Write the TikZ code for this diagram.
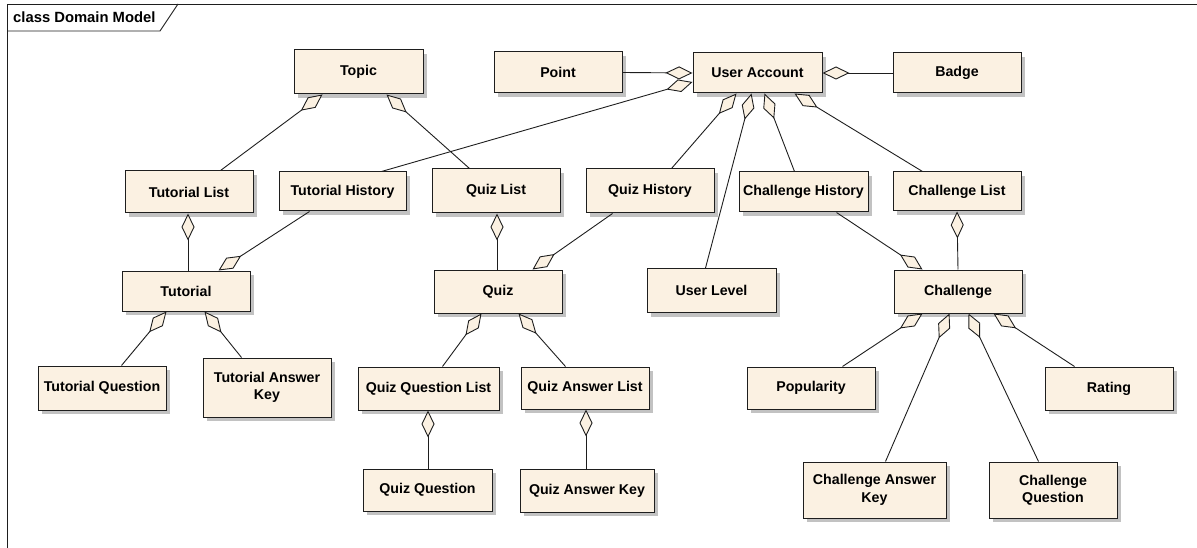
\documentclass[tikz,border=0pt]{standalone}
\usepackage{fontspec}
\setmainfont{Liberation Sans}
\usetikzlibrary{arrows.meta,shadows}
\definecolor{classfill}{RGB}{251,241,226}
\definecolor{edgeline}{RGB}{30,30,30}
\begin{document}
\begin{tikzpicture}[x=1pt,y=-1pt,
  cls/.style={draw=edgeline, line width=1pt, fill=classfill, inner sep=2pt,
    align=center, font=\bfseries\fontsize{14.2}{17.5}\selectfont,
    drop shadow={shadow xshift=4pt, shadow yshift=-4pt, fill=black!24, opacity=1}},
  agg/.style={draw=edgeline, line width=0.9pt,
    -{Diamond[length=27pt,width=13pt,fill=classfill,line width=0.9pt]}},
  framestyle/.style={draw=edgeline, line width=0.9pt}
]
\useasboundingbox (0,0) rectangle (1197,548);

% diagram frame and its name tab
\draw[framestyle] (1197,4) -- (7,4) -- (7,548);
\draw[framestyle] (7,31) -- (160,31) -- (178,4);
\node[anchor=west, font=\bfseries\fontsize{14.8}{17}\selectfont, inner sep=0pt] (title) at (13,17.5) {class Domain Model};

% classes
\node[cls, minimum width=129pt, minimum height=44pt] (topic)  at (358.5,72)  {Topic};
\node[cls, minimum width=128pt, minimum height=41pt] (point)  at (558,72.5)  {Point};
\node[cls, minimum width=129pt, minimum height=40pt] (ua)     at (757.5,73)  {User Account};
\node[cls, minimum width=128pt, minimum height=40pt] (badge)  at (957,73)    {Badge};

\node[cls, minimum width=128pt, minimum height=42pt] (tlist)  at (189,192)   {Tutorial List};
\node[cls, minimum width=127pt, minimum height=39pt] (thist)  at (342.5,191.5) {Tutorial History};
\node[cls, minimum width=128pt, minimum height=44pt] (qlist)  at (496,191)   {Quiz List};
\node[cls, minimum width=128pt, minimum height=44pt] (qhist)  at (650,191)   {Quiz History};
\node[cls, minimum width=129pt, minimum height=40pt] (chist)  at (803.5,192) {Challenge History};
\node[cls, minimum width=128pt, minimum height=39pt] (clist)  at (957,191.5) {Challenge List};

\node[cls, minimum width=128pt, minimum height=40pt] (tut)    at (186,291)   {Tutorial};
\node[cls, minimum width=128pt, minimum height=43pt] (quiz)   at (498,291.5) {Quiz};
\node[cls, minimum width=129pt, minimum height=44pt] (ulevel) at (711.5,290.5) {User Level};
\node[cls, minimum width=128pt, minimum height=43pt] (chal)   at (958,291.5) {Challenge};

\node[cls, minimum width=128pt, minimum height=44pt] (tq)     at (102,388)   {Tutorial Question};
\node[cls, minimum width=128pt, minimum height=59pt] (tak)    at (267,387.5) {Tutorial Answer\\Key};
\node[cls, minimum width=141pt, minimum height=43pt] (qql)    at (428.5,388.5) {Quiz Question List};
\node[cls, minimum width=128pt, minimum height=42pt] (qal)    at (585,388)   {Quiz Answer List};
\node[cls, minimum width=128pt, minimum height=42pt] (pop)    at (811,388)   {Popularity};
\node[cls, minimum width=128pt, minimum height=43pt] (rating) at (1109,388.5) {Rating};

\node[cls, minimum width=129pt, minimum height=42pt] (qq)     at (427.5,490) {Quiz Question};
\node[cls, minimum width=134pt, minimum height=43pt] (qak)    at (587,490.5) {Quiz Answer Key};
\node[cls, minimum width=143pt, minimum height=56pt] (cak)    at (874.5,490) {Challenge Answer\\Key};
\node[cls, minimum width=128pt, minimum height=56pt] (cq)     at (1053,490)  {Challenge\\Question};

% aggregations: the diamond sits at the aggregate
\draw[agg] ([xshift=96pt]tlist.north west) -- ([xshift=29pt]topic.south west);
\draw[agg] ([xshift=38pt]qlist.north west) -- ([xshift=93pt]topic.south west);

\draw[agg] (point.east) -- (ua.west);
\draw[agg] (badge.west) -- (ua.east);
\draw[agg] ([xshift=103pt]thist.north west) -- ([yshift=-9pt]ua.west);
\draw[agg] ([xshift=86pt]qhist.north west) -- ([xshift=44pt]ua.south west);
\draw[agg] ([xshift=59pt]ulevel.north west) -- ([xshift=59pt]ua.south west);
\draw[agg] ([xshift=56pt]chist.north west) -- ([xshift=72pt]ua.south west);
\draw[agg] ([xshift=30pt]clist.north west) -- ([xshift=-28pt]ua.south east);

\draw[agg] ([xshift=2pt]tut.north) -- ([xshift=-1pt]tlist.south);
\draw[agg] ([xshift=31pt]thist.south west) -- ([xshift=97pt]tut.north west);
\draw[agg] ([xshift=84pt]tq.north west) -- ([xshift=45pt]tut.south west);
\draw[agg] ([xshift=39pt]tak.north west) -- ([xshift=83pt]tut.south west);

\draw[agg] ([xshift=-1pt]quiz.north) -- ([xshift=1pt]qlist.south);
\draw[agg] ([xshift=27pt]qhist.south west) -- ([xshift=99pt]quiz.north west);
\draw[agg] ([xshift=85pt]qql.north west) -- ([xshift=48pt]quiz.south west);
\draw[agg] ([xshift=45pt]qal.north west) -- ([xshift=85pt]quiz.south west);
\draw[agg] ([xshift=0.5pt]qq.north) -- ([xshift=-0.5pt]qql.south);
\draw[agg] ([xshift=-1pt]qak.north) -- ([xshift=1pt]qal.south);

\draw[agg] ([xshift=98pt]chist.south west) -- ([xshift=29pt]chal.north west);
\draw[agg] (chal.north) -- (clist.south);
\draw[agg] ([xshift=96pt]pop.north west) -- ([xshift=29pt]chal.south west);
\draw[agg] ([xshift=83pt]cak.north west) -- ([xshift=56pt]chal.south west);
\draw[agg] ([xshift=50pt]cq.north west) -- ([xshift=75pt]chal.south west);
\draw[agg] ([xshift=30pt]rating.north west) -- ([xshift=100pt]chal.south west);
\end{tikzpicture}
\end{document}
